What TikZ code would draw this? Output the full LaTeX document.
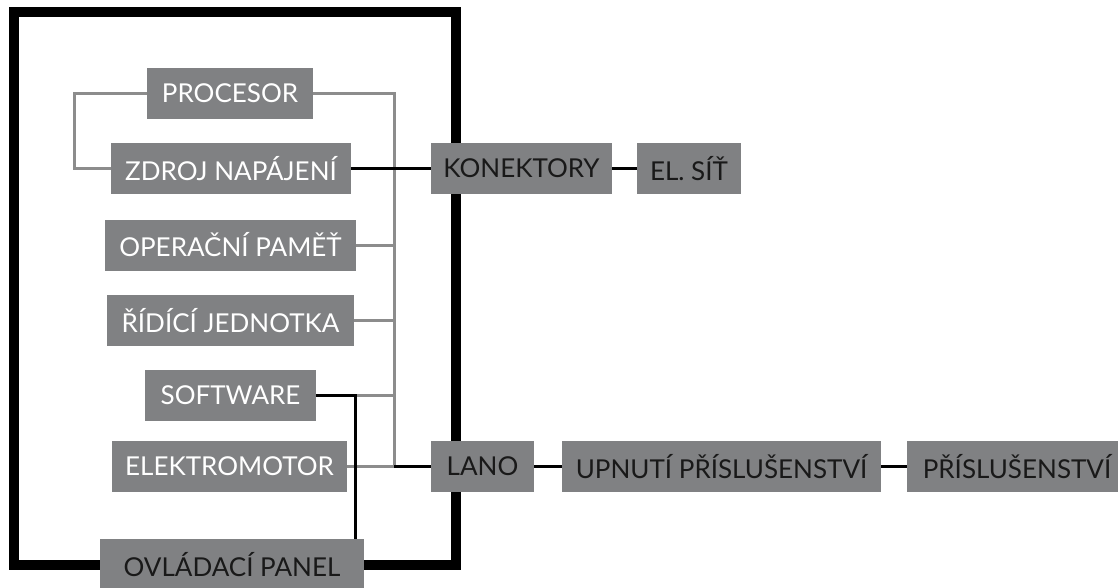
\documentclass[tikz,border=0pt]{standalone}
\usepackage{fontspec}
\setmainfont{Lato}
\definecolor{boxgray}{RGB}{128,129,131}
\definecolor{linegray}{RGB}{140,140,140}
\definecolor{txtdark}{RGB}{25,25,25}
\begin{document}
\begin{tikzpicture}[x=1pt,y=-1pt,
  box/.style={fill=boxgray,draw=none,inner sep=0pt,minimum height=51pt,
    font=\fontsize{26}{28}\selectfont,anchor=center},
  inbox/.style={box,text=white},
  outbox/.style={box,text=txtdark},
  gline/.style={draw=linegray,line width=3pt},
  bline/.style={draw=black,line width=3pt},
  frame/.style={draw=black,line width=10pt}]
\clip (0,0) rectangle (1118,587);
\fill[white] (0,0) rectangle (1118,587);
% frame
\draw[frame] (14,12) rectangle (456,565);
% nodes
\node[inbox,minimum width=166pt] (proc) at (230,93.5) {PROCESOR};
\node[inbox,minimum width=240pt] (zdroj) at (231,168.5) {ZDROJ NAPÁJENÍ};
\node[inbox,minimum width=251pt] (opm) at (230.5,245) {OPERAČNÍ PAMĚŤ};
\node[inbox,minimum width=247pt] (rj) at (230.5,320.5) {ŘÍDÍCÍ JEDNOTKA};
\node[inbox,minimum width=171pt] (sw) at (230.5,395) {SOFTWARE};
\node[inbox,minimum width=235pt] (elek) at (229.5,466.5) {ELEKTROMOTOR};
\node[outbox,minimum width=264pt] (ovl) at (232,564.5) {OVLÁDACÍ PANEL};
\node[outbox,minimum width=181pt] (kon) at (521.5,168.5) {KONEKTORY};
\node[outbox,minimum width=104pt] (sit) at (689,168.5) {EL. SÍŤ};
\node[outbox,minimum width=103pt] (lano) at (482.5,466.5) {LANO};
\node[outbox,minimum width=319pt] (upn) at (721.5,466.5) {UPNUTÍ PŘÍSLUŠENSTVÍ};
\node[outbox,minimum width=220pt] (pris) at (1017,466.5) {PŘÍSLUŠENSTVÍ};
% coordinates
\coordinate (busT) at (394,93.5);
\coordinate (busB) at (394,466.5);
\coordinate (loop) at (74,93.5);
\coordinate (swc) at (355,395);
% gray connectors
\draw[gline] (proc.west) -- (loop) |- (zdroj.west);
\draw[gline] (proc.east) -- (busT) -- (busB);
\draw[gline] (opm.east) -- (opm.east -| busT);
\draw[gline] (rj.east) -- (rj.east -| busT);
\draw[gline] (sw.east) -- (sw.east -| busT);
\draw[gline] (elek.east) -- (busB);
% black connectors
\draw[bline] (zdroj.east) -- (kon.west);
\draw[bline] (kon.east) -- (sit.west);
\draw[bline] (busB) -- (lano.west);
\draw[bline] (lano.east) -- (upn.west);
\draw[bline] (upn.east) -- (pris.west);
\draw[bline] (sw.east) -- (swc) -- (swc |- ovl.north);
\end{tikzpicture}
\end{document}
